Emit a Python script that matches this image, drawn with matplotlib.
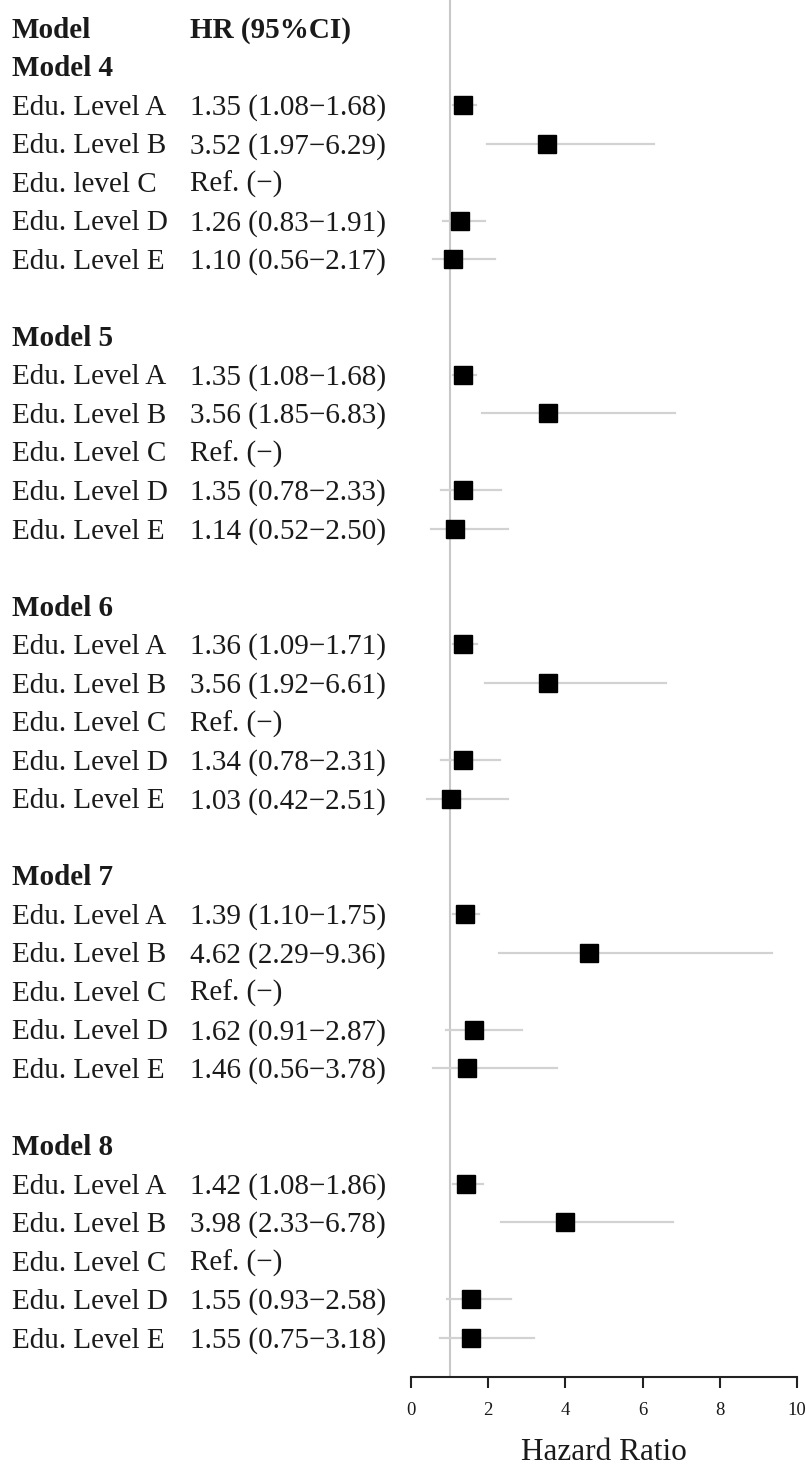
import matplotlib.pyplot as plt
import matplotlib.transforms as mtransforms
import numpy as np

# Data
models = ['Model 4', 'Model 5', 'Model 6', 'Model 7', 'Model 8']
levels = [
    ['Edu. Level A', 'Edu. Level B', 'Edu. level C', 'Edu. Level D', 'Edu. Level E'],
    ['Edu. Level A', 'Edu. Level B', 'Edu. Level C', 'Edu. Level D', 'Edu. Level E'],
    ['Edu. Level A', 'Edu. Level B', 'Edu. Level C', 'Edu. Level D', 'Edu. Level E'],
    ['Edu. Level A', 'Edu. Level B', 'Edu. Level C', 'Edu. Level D', 'Edu. Level E'],
    ['Edu. Level A', 'Edu. Level B', 'Edu. Level C', 'Edu. Level D', 'Edu. Level E'],
]
# None marks the reference level
hr = [
    [1.35, 3.52, None, 1.26, 1.10],
    [1.35, 3.56, None, 1.35, 1.14],
    [1.36, 3.56, None, 1.34, 1.03],
    [1.39, 4.62, None, 1.62, 1.46],
    [1.42, 3.98, None, 1.55, 1.55],
]
lower = [
    [1.08, 1.97, None, 0.83, 0.56],
    [1.08, 1.85, None, 0.78, 0.52],
    [1.09, 1.92, None, 0.78, 0.42],
    [1.10, 2.29, None, 0.91, 0.56],
    [1.08, 2.33, None, 0.93, 0.75],
]
upper = [
    [1.68, 6.29, None, 1.91, 2.17],
    [1.68, 6.83, None, 2.33, 2.50],
    [1.71, 6.61, None, 2.31, 2.51],
    [1.75, 9.36, None, 2.87, 3.78],
    [1.86, 6.78, None, 2.58, 3.18],
]
xticks = [0, 2, 4, 6, 8, 10]

serif = ['Liberation Serif', 'DejaVu Serif']
txt_color = '#1a1a1a'

W, H = 806, 1468
fig = plt.figure(figsize=(W / 100, H / 100), dpi=100)

row0_px = 28.0
row_h = 38.53
axis_px = 1377.0
ax_left, ax_right = 411.0, 797.0
ax = fig.add_axes([ax_left / W, (H - axis_px) / H, (ax_right - ax_left) / W, axis_px / H])
ax.set_xlim(0, 10)
ax.set_ylim((axis_px - row0_px) / row_h, -row0_px / row_h)

trans = mtransforms.blended_transform_factory(fig.transFigure, ax.transData)
col1 = 12 / W
col2 = 190 / W
fs = 21
# baseline offset so that capitals are centred on the row
base = 0.25


def put(x, y, s, bold=False):
    ax.text(x, y + base, s, transform=trans, family=serif, fontsize=fs,
            fontweight='bold' if bold else 'normal', va='baseline', color=txt_color)


put(col1, 0, 'Model', bold=True)
put(col2, 0, 'HR (95%CI)', bold=True)

ax.axvline(1, color='#c8c8c8', lw=1.5, zorder=1)

row = 1
for m, name in enumerate(models):
    put(col1, row, name, bold=True)
    row += 1
    for i in range(5):
        put(col1, row, levels[m][i])
        if hr[m][i] is None:
            label = 'Ref. (\u2212)'
        else:
            label = '%.2f (%.2f\u2212%.2f)' % (hr[m][i], lower[m][i], upper[m][i])
            ax.plot([lower[m][i], upper[m][i]], [row, row], color='#d2d2d2', lw=1.6, zorder=2)
            ax.plot(hr[m][i], row, marker='s', ms=13, color='black', zorder=3)
        put(col2, row, label)
        row += 1
    row += 1

for s in ['top', 'left', 'right']:
    ax.spines[s].set_visible(False)
ax.spines['bottom'].set_linewidth(1.5)
ax.spines['bottom'].set_color('#222222')
ax.set_yticks([])
ax.set_xticks(xticks)
ax.set_xticklabels([str(t) for t in xticks], family=serif, fontsize=13.5, color=txt_color)
ax.tick_params(axis='x', length=8, width=1.5, pad=10, color='#222222')
ax.set_xlabel('Hazard Ratio', family=serif, fontsize=22.5, color=txt_color, labelpad=14)

fig.savefig('out.png', dpi=100)
